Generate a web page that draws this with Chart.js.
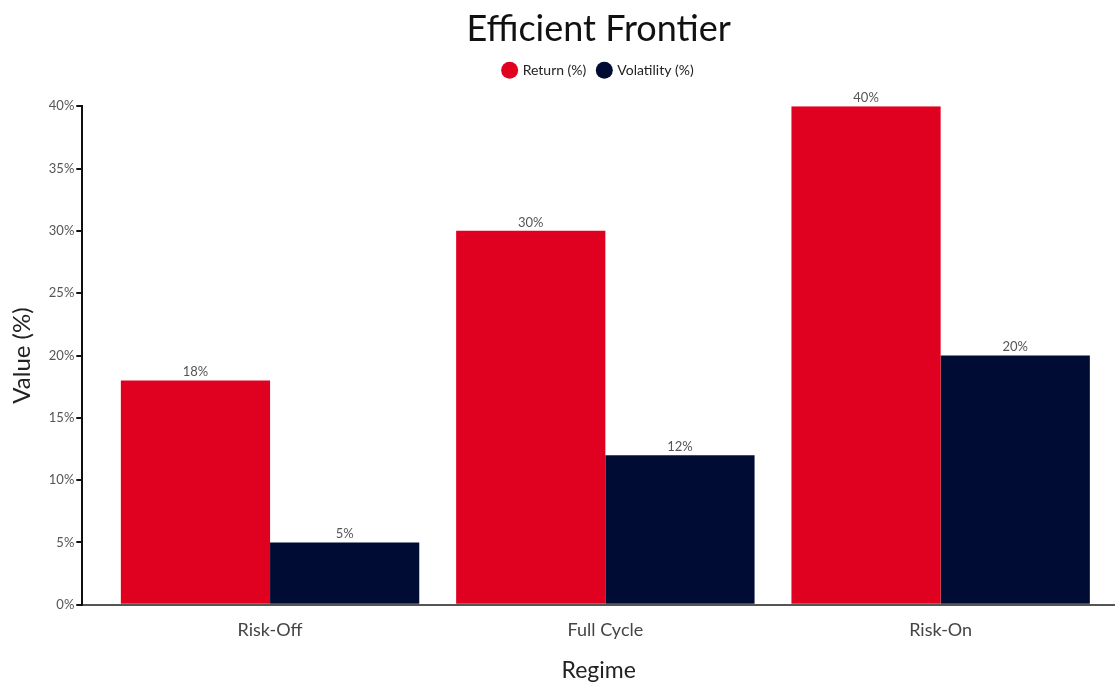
<!DOCTYPE html>
<html lang="en">
<head>
    <meta charset="UTF-8">
    <title>Efficient Frontier</title>
    <script src="https://cdn.jsdelivr.net/npm/chart.js@4.4.1/dist/chart.umd.min.js"></script>
    <style>
        html, body { margin: 0; padding: 0; background: #fff; }
        #chartBox { width: 1115px; height: 684px; }
    </style>
</head>
<body>
<div id="chartBox">
    <canvas id="frontierChart"></canvas>
</div>

<script>
    const regimes = ['Risk-Off', 'Full Cycle', 'Risk-On'];
    const returnPct = [18, 30, 40];
    const volatilityPct = [5, 12, 20];
    const yTicks = [0, 5, 10, 15, 20, 25, 30, 35, 40];

    const fontFamily = 'Lato, "Open Sans", sans-serif';

    // bars sit on a numeric x axis so the groups can keep a margin from the y axis
    const toPoints = arr => arr.map((v, i) => ({ x: i, y: v }));

    // values printed above each bar
    const barValueLabels = {
        id: 'barValueLabels',
        afterDatasetsDraw(chart) {
            const ctx = chart.ctx;
            ctx.save();
            ctx.font = '13px ' + fontFamily;
            ctx.fillStyle = '#555';
            ctx.textAlign = 'center';
            ctx.textBaseline = 'bottom';
            chart.data.datasets.forEach((ds, i) => {
                chart.getDatasetMeta(i).data.forEach((bar, j) => {
                    ctx.fillText(ds.data[j].y + '%', bar.x, bar.y - 2);
                });
            });
            ctx.restore();
        }
    };

    // extra space under the legend, and title + legend centred on the plot area
    const headerLayout = {
        id: 'headerLayout',
        beforeInit(chart) {
            const fit = chart.legend.fit;
            chart.legend.fit = function () {
                fit.bind(chart.legend)();
                this.height += 19;
            };
        },
        afterLayout(chart) {
            const a = chart.chartArea;
            [chart.titleBlock, chart.legend].forEach(box => {
                if (!box) return;
                box.left = a.left;
                box.right = a.right;
                box.width = a.right - a.left;
            });
        }
    };

    new Chart(document.getElementById('frontierChart'), {
        type: 'bar',
        data: {
            datasets: [{
                label: 'Return (%)',
                data: toPoints(returnPct),
                backgroundColor: '#e00020',
                borderWidth: 0
            }, {
                label: 'Volatility (%)',
                data: toPoints(volatilityPct),
                backgroundColor: '#000c33',
                borderWidth: 0
            }]
        },
        options: {
            responsive: true,
            maintainAspectRatio: false,
            animation: false,
            layout: { padding: { left: 8, right: 0, top: 8, bottom: 0 } },
            datasets: {
                bar: { categoryPercentage: 0.89, barPercentage: 1.0 }
            },
            plugins: {
                title: {
                    display: true,
                    text: 'Efficient Frontier',
                    color: '#111',
                    font: { family: fontFamily, size: 36, weight: 'normal' },
                    padding: { top: 0, bottom: 0 }
                },
                legend: {
                    display: true,
                    labels: {
                        usePointStyle: true,
                        pointStyle: 'circle',
                        boxWidth: 12,
                        boxHeight: 12,
                        padding: 12,
                        color: '#222',
                        font: { family: fontFamily, size: 14 }
                    }
                },
                tooltip: { enabled: false }
            },
            scales: {
                x: {
                    type: 'linear',
                    offset: false,
                    min: -0.56,
                    max: 2.52,
                    afterBuildTicks(axis) {
                        axis.ticks = regimes.map((r, i) => ({ value: i }));
                    },
                    grid: { display: false, drawTicks: false },
                    border: { display: true, color: '#555', width: 2 },
                    ticks: {
                        color: '#444',
                        padding: 15,
                        font: { family: fontFamily, size: 18 },
                        callback: v => regimes[v]
                    },
                    title: {
                        display: true,
                        text: 'Regime',
                        color: '#222',
                        font: { family: fontFamily, size: 23 },
                        padding: { top: 0, bottom: 0 }
                    }
                },
                y: {
                    min: 0,
                    max: 40,
                    afterBuildTicks(axis) {
                        axis.ticks = yTicks.map(v => ({ value: v }));
                    },
                    grid: {
                        display: true,
                        drawOnChartArea: false,
                        drawTicks: true,
                        tickLength: 6,
                        color: '#111',
                        lineWidth: 2
                    },
                    border: { display: true, color: '#111', width: 2 },
                    ticks: {
                        color: '#555',
                        padding: 2,
                        font: { family: fontFamily, size: 13 },
                        callback: v => v + '%'
                    },
                    title: {
                        display: true,
                        text: 'Value (%)',
                        color: '#222',
                        font: { family: fontFamily, size: 24 },
                        padding: { top: 0, bottom: 10 }
                    }
                }
            }
        },
        plugins: [barValueLabels, headerLayout]
    });
</script>
</body>
</html>
